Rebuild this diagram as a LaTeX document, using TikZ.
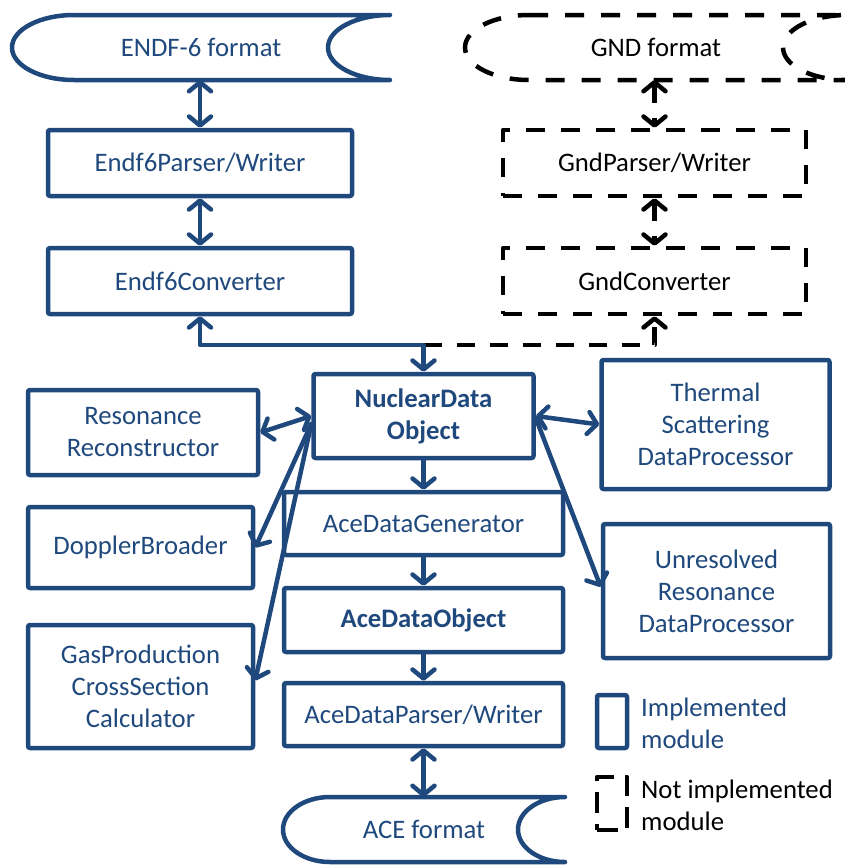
\documentclass[tikz,border=0pt]{standalone}
\usepackage{fontspec}
\setmainfont{Carlito}
\usetikzlibrary{arrows.meta,calc}
\definecolor{ndblue}{RGB}{31,73,125}
\newcommand\txtfont{\fontsize{26.7}{32}\selectfont}
\tikzset{
  lw/.style={line width=4.5pt, line join=round},
  impl/.style={lw, line cap=round, draw=ndblue, text=ndblue, rounded corners=2pt, inner sep=0pt, align=center, font=\txtfont},
  notimpl/.style={lw, line cap=butt, draw=black, text=black, dash pattern=on 19pt off 16pt, inner sep=0pt, align=center, font=\txtfont},
  storenode/.style={inner sep=0pt, outer sep=0pt, align=center, font=\txtfont},
  blink/.style={lw, line cap=round, draw=ndblue, >={Straight Barb[length=9pt,width=22pt,round]}},
  dlink/.style={lw, line cap=butt, draw=black, dash pattern=on 18pt off 15pt, >={Straight Barb[length=9pt,width=22pt,round]}},
  bstore/.style={lw, line cap=round, draw=ndblue},
  dstore/.style={lw, line cap=butt, draw=black, dash pattern=on 19pt off 17pt},
  legtext/.style={anchor=west, align=left, inner sep=0pt, font=\txtfont},
}
% #1 node name, #2 end radius, #3 style
\newcommand\storeoutline[3]{%
  \draw[#3] ($(#1.north west)+(#2,0)$) -- (#1.north east)
    .. controls +({-0.55*#2},0) and +(0,-18) .. ($(#1.east)+(-#2,0)$)
    .. controls +(0,18) and +({-0.55*#2},0) .. (#1.south east)
    -- ($(#1.south west)+(#2,0)$)
    .. controls +({-0.55*#2},0) and +(0,18) .. (#1.west)
    .. controls +(0,-18) and +({-0.55*#2},0) .. ($(#1.north west)+(#2,0)$) -- cycle;}
\begin{document}
\begin{tikzpicture}[x=1pt,y=-1pt]
\useasboundingbox (0,0) rectangle (845,865);

% storage shapes
\node[storenode, text=ndblue, minimum width=378pt, minimum height=65pt] (endf) at (201,47.5) {ENDF-6 format};
\storeoutline{endf}{62}{bstore}
\node[storenode, text=black, minimum width=382pt, minimum height=65pt] (gnd) at (656,47.5) {GND format};
\storeoutline{gnd}{64}{dstore}
\node[storenode, text=ndblue, minimum width=282pt, minimum height=65pt] (ace) at (424,829.5) {ACE format};
\storeoutline{ace}{47}{bstore}

% ENDF column
\node[impl, minimum width=304pt, minimum height=66pt] (ep) at (200,163) {Endf6Parser/Writer};
\node[impl, minimum width=304pt, minimum height=66pt] (ec) at (200,281) {Endf6Converter};

% GND column
\node[notimpl, minimum width=303pt, minimum height=66pt] (gp) at (654.5,163) {GndParser/Writer};
\node[notimpl, minimum width=303pt, minimum height=66pt] (gc) at (654.5,281) {GndConverter};

% centre column
\node[impl, minimum width=220pt, minimum height=84pt, font=\txtfont\bfseries] (ndo) at (423.5,416) {NuclearData\\Object};
\node[impl, minimum width=279pt, minimum height=63pt] (adg) at (423.5,523.5) {AceDataGenerator};
\node[impl, minimum width=279pt, minimum height=64pt, font=\txtfont\bfseries] (ado) at (423.5,620) {AceDataObject};
\node[impl, minimum width=279pt, minimum height=63pt] (adp) at (423.5,714.5) {AceDataParser/Writer};

% left column
\node[impl, minimum width=230pt, minimum height=85pt] (rr) at (143,432.5) {Resonance\\Reconstructor};
\node[impl, minimum width=225pt, minimum height=81pt] (dop) at (140.5,547.5) {DopplerBroader};
\node[impl, minimum width=225pt, minimum height=123pt] (gas) at (140.5,686.5) {GasProduction\\CrossSection\\Calculator};

% right column
\node[impl, minimum width=228pt, minimum height=129pt] (th) at (715.5,424.5) {Thermal\\Scattering\\DataProcessor};
\node[impl, minimum width=227pt, minimum height=134pt] (ur) at (716.5,591) {Unresolved\\Resonance\\DataProcessor};

% legend
\node[impl, minimum width=30pt, minimum height=53pt] (lg1) at (612,721.5) {};
\node[legtext, text=ndblue] (lg1t) at (641,723) {Implemented\\module};
\node[notimpl, dash pattern=on 21pt off 11pt, minimum width=30pt, minimum height=53pt] (lg2) at (612,803.5) {};
\node[legtext, text=black] (lg2t) at (641,805) {Not implemented\\module};

% connectors
\coordinate (jy) at (0,345);
\coordinate (j) at (ndo.north |- jy);
\draw[dlink,->] (j) -| (gc.south);
\draw[blink,<->] (ec.south) |- (j) -- (ndo.north);

\draw[blink,<->] (ep.north |- endf.south) -- (ep.north);
\draw[blink,<->] (ep.south) -- (ec.north);
\draw[dlink,<->] (gp.north |- gnd.south) -- (gp.north);
\draw[dlink,<->] (gp.south) -- (gc.north);

\draw[blink,->] (ndo.south) -- (adg.north);
\draw[blink,->] (adg.south) -- (ado.north);
\draw[blink,->] (ado.south) -- (adp.north);
\draw[blink,<->] (adp.south) -- (adp.south |- ace.north);

\coordinate (ndoL) at ($(ndo.west)+(0,8)$);
\coordinate (ndoR) at ($(ndo.east)+(0,2)$);
\draw[blink,<->] (rr.east) -- (ndo.west);
\draw[blink,->] (ndoL) -- (dop.east);
\draw[blink,->] (ndoL) -- ($(gas.east)+(0,-6)$);
\draw[blink,<->] (ndo.east) -- (th.west);
\draw[blink,->] (ndoR) -- ($(ur.west)+(0,-4)$);
\end{tikzpicture}
\end{document}
